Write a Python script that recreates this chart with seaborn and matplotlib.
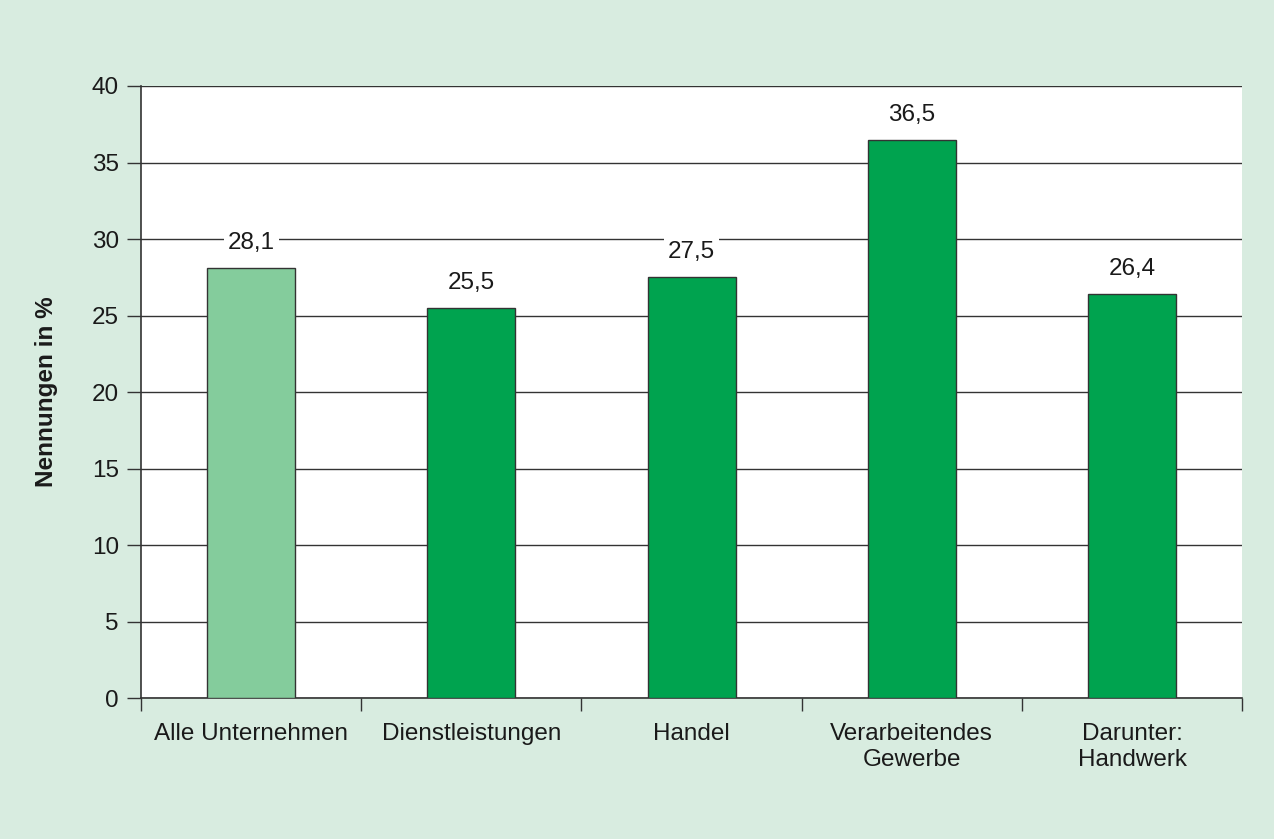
import numpy as np
import pandas as pd
import matplotlib
matplotlib.use('Agg')
import matplotlib.pyplot as plt
import seaborn as sns
from matplotlib.ticker import FixedLocator

categories = ['Alle Unternehmen', 'Dienstleistungen', 'Handel',
              'Verarbeitendes\nGewerbe', 'Darunter:\nHandwerk']
values = [28.1, 25.5, 27.5, 36.5, 26.4]
value_labels = ['28,1', '25,5', '27,5', '36,5', '26,4']
bar_colors = ['#84cc9c', '#00a34f', '#00a34f', '#00a34f', '#00a34f']

sns.set_style('white')
plt.rcParams['font.family'] = ['Liberation Sans', 'DejaVu Sans']
plt.rcParams['text.color'] = '#1a1a1a'
plt.rcParams['xtick.color'] = '#1a1a1a'
plt.rcParams['ytick.color'] = '#1a1a1a'
plt.rcParams['axes.labelcolor'] = '#1a1a1a'

bg = '#d8ece0'
fig = plt.figure(figsize=(12.74, 8.39), dpi=100, facecolor=bg)
ax = fig.add_axes([0.1107, 0.168, 0.8643, 0.7295])
ax.set_facecolor('white')

df = pd.DataFrame({'cat': categories, 'val': values})
sns.barplot(data=df, x='cat', y='val', hue='cat', palette=bar_colors,
            saturation=1, width=0.4, edgecolor='#333333', linewidth=1,
            legend=False, ax=ax, zorder=3)

ax.set_ylim(0, 40)
ax.set_xlim(-0.5, 4.5)
ax.set_yticks(range(0, 41, 5))
ax.yaxis.grid(True, color='#333333', linewidth=1)
ax.set_axisbelow(True)

for s in ['top', 'right']:
    ax.spines[s].set_visible(False)
for s in ['left', 'bottom']:
    ax.spines[s].set_color('#333333')
    ax.spines[s].set_linewidth(1.2)

# y ticks stick out to the left, x ticks mark the category boundaries
ax.tick_params(axis='y', which='major', length=10, width=1, color='#333333',
               labelsize=17.5, pad=6, direction='out', left=True)
ax.tick_params(axis='x', which='major', length=0, labelsize=17.5, pad=18)
for t in ax.get_xticklabels():
    t.set_linespacing(1.25)
ax.xaxis.set_minor_locator(FixedLocator(np.arange(-0.5, 4.6, 1)))
ax.tick_params(axis='x', which='minor', length=9, width=1, color='#333333',
               direction='out', bottom=True)
ax.set_xlabel('')
ax.set_ylabel('Nennungen in %', fontsize=17.5, fontweight='bold', labelpad=24)

for i, (v, lab) in enumerate(zip(values, value_labels)):
    ax.text(i, v + 0.9, lab, ha='center', va='bottom', fontsize=17.5,
            zorder=4, bbox=dict(facecolor='white', edgecolor='none', pad=3))

fig.savefig('out.png', dpi=100, facecolor=bg)
